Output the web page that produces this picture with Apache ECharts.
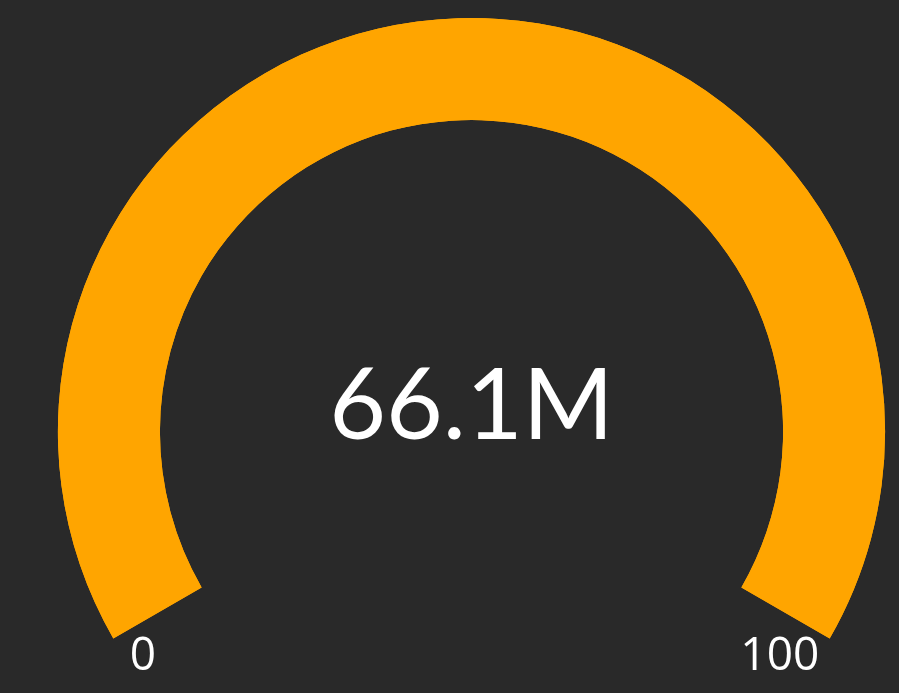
<!DOCTYPE html>
<html>
<head>
	<meta charset="utf-8" />
	<title>Gauge</title>
	<script src="https://cdn.jsdelivr.net/npm/echarts@6/dist/echarts.min.js"></script>
	<style>
		html, body { margin: 0; padding: 0; background: #292929; }
	</style>
</head>
<body>
	<div id="main" style="width: 899px;height: 693px;"></div>
	<script type="text/javascript">

		// data
		var gaugeMin = 0;
		var gaugeMax = 100;
		var gaugeValue = 66100000;
		var gaugeText = '66.1M';

		var myChart = echarts.init(document.getElementById("main"));

		var center = [471.5, 431.6];

		var option = {
			backgroundColor: '#292929',
			series: [
				{
					type: 'gauge',
					center: center,
					radius: 413.6,
					startAngle: 210,
					endAngle: -30,
					min: gaugeMin,
					max: gaugeMax,
					progress: {
						show: true,
						width: 102,
						itemStyle: { color: '#FFA500' }
					},
					axisLine: {
						lineStyle: { width: 102, color: [[1, '#FFA500']] }
					},
					pointer: { show: false },
					axisTick: { show: false },
					splitLine: { show: false },
					axisLabel: { show: false },
					title: { show: false },
					detail: {
						offsetCenter: [0, -24],
						fontFamily: 'Lato',
						fontWeight: 'normal',
						fontSize: 98,
						color: '#ffffff',
						formatter: function () { return gaugeText; }
					},
					data: [{ value: gaugeValue }]
				},
				{
					// min / max labels
					type: 'gauge',
					center: [474.5, 431.6],
					radius: 412,
					startAngle: 213.2,
					endAngle: -33.2,
					min: gaugeMin,
					max: gaugeMax,
					splitNumber: 1,
					axisLine: { show: false, lineStyle: { width: 0 } },
					pointer: { show: false },
					axisTick: { show: false },
					splitLine: { show: false, length: 0, distance: 0 },
					axisLabel: {
						distance: 0,
						fontFamily: 'Open Sans',
						fontSize: 46,
						color: '#ffffff'
					},
					title: { show: false },
					detail: { show: false },
					data: []
				}
			]
		};

		myChart.setOption(option);

	</script>
</body>
</html>
